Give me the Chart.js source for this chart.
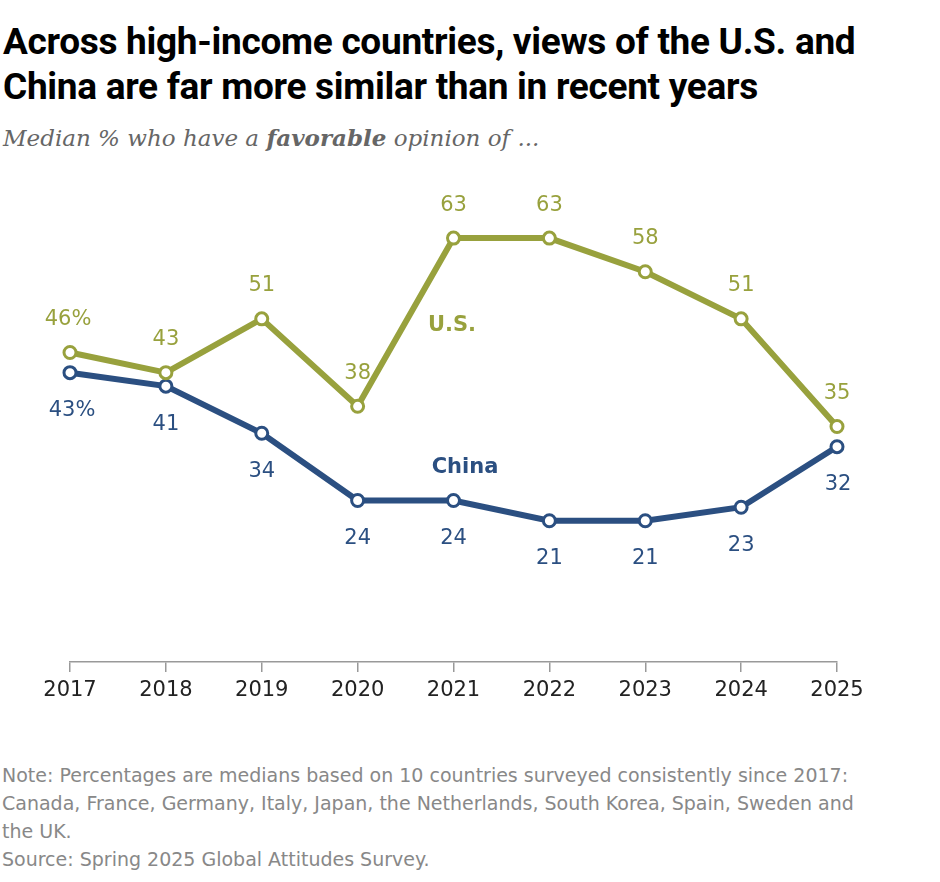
<!DOCTYPE html>
<html><head><meta charset="utf-8">
<script src="https://cdn.jsdelivr.net/npm/chart.js@4"></script>
<style>
body{margin:0;background:#fff;width:940px;height:882px;position:relative;overflow:hidden;font-family:"DejaVu Sans",sans-serif}
#title{position:absolute;left:3px;top:19px;font-family:Roboto,"Liberation Sans";font-weight:700;font-size:37px;line-height:45px;color:#000;letter-spacing:-0.3px}
#sub{position:absolute;left:3px;top:124px;font-family:"DejaVu Serif",serif;font-style:italic;font-size:23px;color:#666}
#note{position:absolute;left:2px;top:761px;font-size:19px;line-height:28px;color:#888}
canvas{position:absolute;left:0;top:0}
</style></head><body>
<div id="title">Across high-income countries, views of the U.S. and<br>China are far more similar than in recent years</div>
<div id="sub">Median % who have a <b>favorable</b> opinion of ...</div>
<div id="note">Note: Percentages are medians based on 10 countries surveyed consistently since 2017:<br>Canada, France, Germany, Italy, Japan, the Netherlands, South Korea, Spain, Sweden and<br>the UK.<br>Source: Spring 2025 Global Attitudes Survey.</div>
<div style="position:absolute;left:0;top:0;width:940px;height:720px"><canvas id="c"></canvas></div>
<script>
const years=["2017","2018","2019","2020","2021","2022","2023","2024","2025"];
const usValues=[46,43,51,38,63,63,58,51,35];
const chinaValues=[43,41,34,24,24,21,21,23,32];
const usLabels=["46%","43","51","38","63","63","58","51","35"];
const chinaLabels=["43%","41","34","24","24","21","21","23","32"];
const US_C="#98a13d",CN_C="#2b4f81";
const labelPlugin={id:"lbl",afterDatasetsDraw(ch){
 const ctx=ch.ctx;ctx.save();ctx.font="21px 'DejaVu Sans'";ctx.textAlign="center";ctx.textBaseline="middle";
 const m0=ch.getDatasetMeta(0).data,m1=ch.getDatasetMeta(1).data;
 m0.forEach((p,i)=>{ctx.fillStyle=US_C;ctx.fillText(usLabels[i],p.x+(i==0?-2:0),p.y-33);});
 m1.forEach((p,i)=>{ctx.fillStyle=CN_C;ctx.fillText(chinaLabels[i],p.x+(i==0?2:(i==8?1:0)),p.y+38);});
 ctx.font="bold 21px 'DejaVu Sans'";
 ctx.fillStyle=US_C;ctx.fillText("U.S.",452,326);
 ctx.fillStyle=CN_C;ctx.fillText("China",465,468);
 ctx.restore();}};
new Chart(document.getElementById("c"),{type:"line",
 data:{labels:years,datasets:[
 {data:usValues,borderColor:US_C,borderWidth:6,pointRadius:6,pointBorderWidth:3,pointBackgroundColor:"#fff",pointBorderColor:US_C,tension:0},
 {data:chinaValues,borderColor:CN_C,borderWidth:6,pointRadius:6,pointBorderWidth:3,pointBackgroundColor:"#fff",pointBorderColor:CN_C,tension:0}]},
 options:{responsive:true,maintainAspectRatio:false,animation:false,
  layout:{padding:{left:70,right:103,top:191,bottom:0}},
  plugins:{legend:{display:false},tooltip:{enabled:false}},
  scales:{
   x:{offset:false,afterFit:s=>{s.height=58;},grid:{drawOnChartArea:false,tickLength:10,color:"#999",lineWidth:1.5},border:{color:"#999",width:1.5},
      ticks:{color:"#222",font:{size:21,family:"'DejaVu Sans'"},padding:6,maxRotation:0}},
   y:{display:false,min:0,max:70}}},
 plugins:[labelPlugin]});
</script></body></html>
